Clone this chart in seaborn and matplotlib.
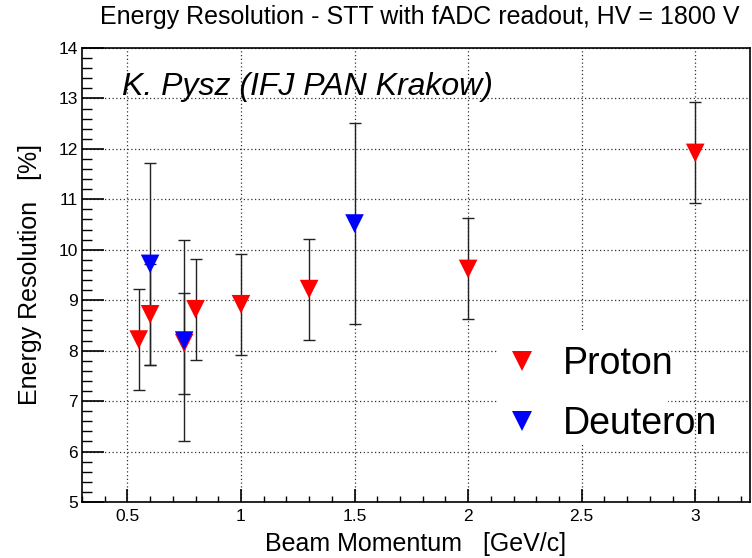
import matplotlib
matplotlib.use("Agg")
import matplotlib.pyplot as plt
import seaborn as sns
import pandas as pd
from matplotlib.lines import Line2D
from matplotlib.patches import Rectangle
from matplotlib.ticker import MultipleLocator, FuncFormatter

# --- data ---
proton_p = [0.55, 0.6, 0.75, 0.8, 1.0, 1.3, 2.0, 3.0]
proton_res = [8.22, 8.72, 8.15, 8.82, 8.92, 9.22, 9.62, 11.92]
proton_err = [1.0, 1.0, 1.0, 1.0, 1.0, 1.0, 1.0, 1.0]

deuteron_p = [0.6, 0.75, 1.5]
deuteron_res = [9.72, 8.2, 10.52]
deuteron_err = [2.0, 2.0, 2.0]

particles = ["Proton", "Deuteron"]
colors = {"Proton": "#ff0000", "Deuteron": "#0000ff"}

df = pd.concat([
    pd.DataFrame({"p": proton_p, "res": proton_res, "err": proton_err, "particle": "Proton"}),
    pd.DataFrame({"p": deuteron_p, "res": deuteron_res, "err": deuteron_err, "particle": "Deuteron"}),
], ignore_index=True)

sns.set_style("white")
plt.rcParams["font.family"] = ["Liberation Sans", "DejaVu Sans"]
plt.rcParams.update({"text.color": "black", "axes.labelcolor": "black",
                     "xtick.color": "black", "ytick.color": "black"})

fig = plt.figure(figsize=(7.52, 5.58), dpi=100)
ax = fig.add_axes([0.109, 0.1004, 0.888, 0.8136])

# error bars first, markers on top
for name in particles:
    sub = df[df["particle"] == name]
    ax.errorbar(sub["p"], sub["res"], yerr=sub["err"], fmt="none",
                ecolor="#222222", elinewidth=1.0, capsize=4, capthick=1.0, zorder=2)

sns.scatterplot(data=df, x="p", y="res", hue="particle", hue_order=particles,
                palette=colors, marker="v", s=180, linewidth=0, legend=False,
                ax=ax, zorder=3)

ax.set_xlim(0.3, 3.24)
ax.set_ylim(5, 14)
ax.xaxis.set_major_locator(MultipleLocator(0.5))
ax.xaxis.set_minor_locator(MultipleLocator(0.1))
ax.yaxis.set_major_locator(MultipleLocator(1))
ax.yaxis.set_minor_locator(MultipleLocator(0.2))
ax.xaxis.set_major_formatter(FuncFormatter(lambda v, _: f"{v:g}"))

ax.grid(True, which="major", color="#333333", linestyle=(0, (1, 2)), linewidth=0.9)
ax.set_axisbelow(True)

ax.tick_params(axis="y", which="major", direction="in", length=15.5, width=1.2,
               labelsize=12.5, left=True, right=False, pad=3)
ax.tick_params(axis="y", which="minor", direction="in", length=7, width=1.0,
               left=True, right=False)
ax.tick_params(axis="x", which="major", direction="in", length=9.5, width=1.2,
               labelsize=12.5, bottom=True, top=False, pad=5)
ax.tick_params(axis="x", which="minor", direction="in", length=4.5, width=1.0,
               bottom=True, top=False)
for sp in ax.spines.values():
    sp.set_visible(True)
    sp.set_color("black")
    sp.set_linewidth(1.2)

ax.set_xlabel("Beam Momentum   [GeV/c]", fontsize=18, labelpad=6)
ax.set_ylabel("Energy Resolution   [%]", fontsize=18, labelpad=12)

fig.text(0.558, 0.9695, "Energy Resolution - STT with fADC readout, HV = 1800 V",
         ha="center", va="center", fontsize=18)

ax.text(0.06, 0.896, "K. Pysz (IFJ PAN Krakow)", transform=ax.transAxes,
        fontsize=23, style="italic", ha="left", va="baseline")

# white legend pad hiding the grid behind it
ax.add_patch(Rectangle((0.623, 0.1256), 0.254, 0.2534, transform=ax.transAxes,
                       facecolor="white", edgecolor="none", zorder=1.5))

handles = [Line2D([], [], linestyle="none", marker="v", markersize=14,
                  markerfacecolor=colors[n], markeredgewidth=0) for n in particles]
ax.legend(handles, particles, loc="upper left", bbox_to_anchor=(0.6306, 0.3425),
          frameon=False, fontsize=27, handlelength=1.0, handletextpad=0.59,
          labelspacing=0.62, borderpad=0, borderaxespad=0)

fig.savefig("out.png", dpi=100)
